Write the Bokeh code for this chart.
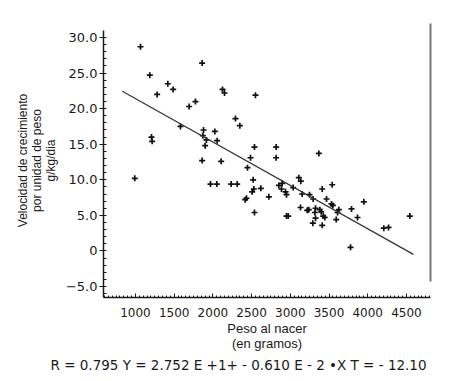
from bokeh.plotting import figure
from bokeh.models import FixedTicker, LinearAxis, Range1d, Title, ColumnDataSource
from bokeh.embed import file_html
from bokeh.resources import INLINE

# ---- data ----
peso = [1065, 1861, 1185, 1418, 1487, 1280, 2124, 2150, 2550, 1775,
        1693, 2292, 2348, 1581, 1879, 2025, 1207, 1215, 1870, 1917,
        2055, 1900, 2537, 2817, 2817, 2486, 1861, 2107, 991, 2447,
        3369, 3110, 3136, 2520, 1969, 2051, 2236, 2314, 2895, 2852,
        3037, 2529, 2619, 2507, 2886, 2938, 2951, 3412, 3541, 3153,
        3248, 3295, 2723, 2434, 2417, 3468, 3532, 3550, 3950, 3132,
        3218, 3239, 3326, 3382, 3317, 3399, 3627, 3610, 3791, 2537,
        2951, 2973, 3425, 3446, 3593, 3868, 3326, 3291, 3412, 4544,
        4208, 4269, 3778]
velocidad = [28.7, 26.4, 24.7, 23.5, 22.7, 22.0, 22.7, 22.2, 21.9, 21.0,
             20.3, 18.6, 17.6, 17.5, 17.0, 16.8, 16.0, 15.4, 16.2, 15.6,
             15.5, 14.8, 14.6, 14.6, 13.1, 13.1, 12.7, 12.6, 10.2, 11.7,
             13.7, 10.3, 9.8, 10.0, 9.4, 9.4, 9.4, 9.4, 9.5, 9.2,
             8.9, 8.7, 8.8, 8.3, 8.7, 8.3, 7.9, 8.7, 9.3, 8.0,
             7.9, 7.3, 7.6, 7.4, 7.2, 7.3, 6.6, 6.4, 6.9, 6.1,
             5.7, 5.8, 6.0, 5.8, 5.4, 5.5, 5.8, 5.4, 5.9, 5.4,
             4.9, 4.9, 4.9, 4.7, 4.4, 4.7, 4.6, 3.9, 3.6, 4.9,
             3.2, 3.3, 0.5]

recta_x = [830, 4590]
recta_y = [22.45, -0.49]

x_ticks = [1000, 1500, 2000, 2500, 3000, 3500, 4000, 4500]
y_ticks = [30, 25, 20, 15, 10, 5, 0, -5]
y_tick_labels = ["30.0", "25.0", "20.0", "15.0", "10.0", "5.0", "0", "\u22125.0"]

y_title = "Velocidad de crecimiento\npor unidad de peso\ng/kg/dia"
x_title = "Peso al nacer\n(en gramos)"
ecuacion = "R = 0.795 Y = 2.752 E +1+ - 0.610 E - 2 \u2022X T = - 12.10"

FONT = "Liberation Sans"
FONT2 = "DejaVu Sans"
INK = "#1a1a1a"

p = figure(width=449, height=379, output_backend="svg", toolbar_location=None,
           x_range=Range1d(587, 4811), y_range=Range1d(-6.55, 31.97),
           min_border_left=103, min_border_right=19, min_border_top=23,
           min_border_bottom=82)
p.outline_line_color = None
p.xgrid.visible = False
p.ygrid.visible = False
p.background_fill_color = "white"
p.border_fill_color = "white"

src = ColumnDataSource(dict(x=peso, y=velocidad))
p.scatter("x", "y", source=src, marker="cross", size=6, line_color="#111111",
          line_width=1.7)
p.line(recta_x, recta_y, line_color="#333333", line_width=1.2)

# x axis
xa = p.xaxis[0]
xa.ticker = FixedTicker(ticks=x_ticks, minor_ticks=list(range(600, 4801, 50)))
xa.major_tick_in = 4
xa.major_tick_out = 0
xa.minor_tick_in = 2
xa.minor_tick_out = 0
xa.axis_line_width = 1.5
xa.axis_line_color = INK
xa.major_tick_line_color = INK
xa.minor_tick_line_color = INK
xa.major_label_standoff = 10
xa.major_label_text_font = FONT2
xa.major_label_text_font_size = "12px"
xa.major_label_text_color = INK
xa.axis_label = x_title
xa.axis_label_text_font = FONT
xa.axis_label_text_font_style = "normal"
xa.axis_label_text_font_size = "13px"
xa.axis_label_text_line_height = 1.05
xa.axis_label_text_color = INK
xa.axis_label_standoff = 1

# y axis
ya = p.yaxis[0]
ya.ticker = FixedTicker(ticks=y_ticks, minor_ticks=list(range(-6, 31)))
ya.bounds = (-6.55, 31)
ya.major_label_overrides = {t: l for t, l in zip(y_ticks, y_tick_labels)}
ya.major_tick_in = 0
ya.major_tick_out = 4
ya.minor_tick_in = 3
ya.minor_tick_out = 0
ya.axis_line_width = 1.5
ya.axis_line_color = INK
ya.major_tick_line_color = INK
ya.minor_tick_line_color = INK
ya.major_label_standoff = 2
ya.major_label_text_font = FONT2
ya.major_label_text_font_size = "13px"
ya.major_label_text_color = INK
ya.axis_label = y_title
ya.axis_label_text_font = FONT
ya.axis_label_text_font_style = "normal"
ya.axis_label_text_font_size = "12px"
ya.axis_label_text_line_height = 1.0
ya.axis_label_text_color = INK
ya.axis_label_standoff = 5

# right border line
ra = LinearAxis(ticker=FixedTicker(ticks=[]), bounds=(-4.3, 31.97),
                major_label_text_font_size="0px", major_label_standoff=0,
                major_tick_in=0, major_tick_out=0, minor_tick_in=0,
                minor_tick_out=0, axis_line_color="#777777", axis_line_width=2)
p.add_layout(ra, "right")

t = Title(text=ecuacion, align="left", offset=-53, standoff=0, text_font=FONT2,
          text_font_size="13.5px", text_font_style="normal", text_color=INK)
p.add_layout(t, "below")

open("out.html", "w").write(file_html(p, INLINE))
